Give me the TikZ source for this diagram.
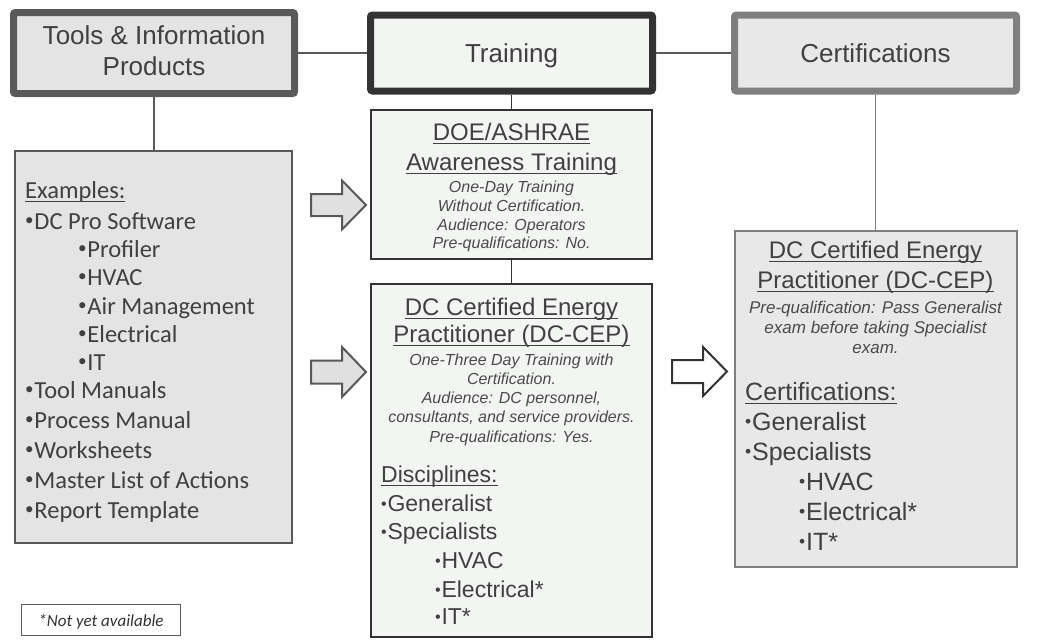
\documentclass[tikz,border=0pt]{standalone}
\usepackage{fontspec}
\usepackage{graphicx}
\setmainfont{Liberation Sans}
\newfontfamily\calfont{Carlito}
\definecolor{txtgray}{HTML}{404040}
\definecolor{itgray}{HTML}{4A4A4A}
\definecolor{toolsborder}{HTML}{595959}
\definecolor{trainborder}{HTML}{333333}
\definecolor{certborder}{HTML}{7F7F7F}
\definecolor{toolsfill}{HTML}{E4E4E4}
\definecolor{trainfill}{HTML}{F3F5F3}
\definecolor{certfill}{HTML}{E8E8E8}
\definecolor{linegray}{HTML}{595959}
\definecolor{arrowfill}{HTML}{E0E0E0}
\newcommand\fsz[1]{\fontsize{#1}{#1}\selectfont}
\newcommand\ulx[1]{\setbox0\hbox{#1}\rlap{\rule[-4pt]{\wd0}{1.4pt}}\box0}
\newcommand\bul{\raisebox{.13em}{\scalebox{.7}{•}}\hspace{.03em}}
\newcommand\bulA{\raisebox{.085em}{\scalebox{.7}{•}}\hspace{.03em}}
\begin{document}
\begin{tikzpicture}[x=1pt,y=-1pt,
  hdrbox/.style={draw, rounded corners=2pt, line width=7pt, inner sep=0, minimum width=282pt, minimum height=76pt},
  contbox/.style={draw, line width=2pt, inner sep=0},
  conn/.style={draw=linegray, line width=1.6pt},
  txt/.style={inner sep=0, text=txtgray},
  itx/.style={inner sep=0, text=itgray, font=\fsz{16}\itshape, anchor=base},
  barrowA/.style={draw=toolsborder, fill=arrowfill, line width=2pt, line join=miter},
  barrowB/.style={draw=trainborder, fill=white, line width=2pt, line join=miter}]
\useasboundingbox (0,0) rectangle (1041,643);
\fill[white] (0,0) rectangle (1041,643);

% header boxes
\node[hdrbox, draw=toolsborder, fill=toolsfill, minimum width=281pt, minimum height=81pt] (tools) at (154,53) {};
\node[hdrbox, draw=trainborder, fill=trainfill] (train) at (511.5,53) {};
\node[hdrbox, draw=certborder, fill=certfill] (cert) at (875.5,53) {};

% content boxes
\node[contbox, draw=toolsborder, fill=toolsfill, minimum width=277pt, minimum height=392pt] (ex) at (153.5,347) {};
\node[contbox, draw=trainborder, fill=trainfill, minimum width=281pt, minimum height=149pt] (doe) at (511.5,184.5) {};
\node[contbox, draw=trainborder, fill=trainfill, minimum width=281pt, minimum height=353pt] (cep) at (511.5,460.5) {};
\node[contbox, draw=certborder, fill=certfill, minimum width=282pt, minimum height=336pt] (ccep) at (875.5,399) {};
\node[draw=toolsborder, line width=1pt, fill=white, inner sep=0, minimum width=159pt, minimum height=31pt] (note) at (101,620) {};

% connectors
\draw[conn] (tools.east) -- (train.west);
\draw[conn] (train.east) -- (cert.west);
\draw[conn] (tools.south) -- (tools.south |- ex.north);
\draw[conn, draw=trainborder] (train.south) -- (doe.north);
\draw[conn, draw=trainborder] (doe.south) -- (cep.north);
\draw[conn, draw=certborder] (cert.south) -- (cert.south |- ccep.north);

% block arrows
\draw[barrowA] (311,194) -- (342,194) -- (342,180.5) -- (366,205) -- (342,229.5) -- (342,216) -- (311,216) -- cycle;
\draw[barrowA] (311,360.5) -- (342,360.5) -- (342,347) -- (366,372) -- (342,397) -- (342,383.5) -- (311,383.5) -- cycle;
\draw[barrowB] (672,360) -- (703,360) -- (703,347) -- (727,371.5) -- (703,396) -- (703,383) -- (672,383) -- cycle;

% header texts
\node[txt, anchor=base, font=\fsz{26}] (tt1) at (154,44) {Tools \& Information};
\node[txt, anchor=base, font=\fsz{26}] (tt2) at (154,75) {Products};
\node[txt, anchor=base, font=\fsz{26}] (tr1) at (511.5,62) {Training};
\node[txt, anchor=base, font=\fsz{26}] (ce1) at (875.5,62) {Certifications};

% examples
\begin{scope}[every node/.style={txt, anchor=base west, font=\calfont\fsz{24.5}}]
\node (e0) at (25,198) {\ulx{Examples:}};
\node (e1) at (25,229) {\bul DC Pro Software};
\node (e2) at (78,257) {\bul Profiler};
\node (e3) at (78,285) {\bul HVAC};
\node (e4) at (78,314) {\bul Air Management};
\node (e5) at (78,342) {\bul Electrical};
\node (e6) at (78,370) {\bul IT};
\node (e7) at (25,398) {\bul Tool Manuals};
\node (e8) at (25,428) {\bul Process Manual};
\node (e9) at (25,458) {\bul Worksheets};
\node (e10) at (25,488) {\bul Master List of Actions};
\node (e11) at (25,518) {\bul Report Template};
\end{scope}

% DOE box
\node[txt, anchor=base, font=\fsz{24}] (d1) at (511.5,140) {\ulx{DOE/ASHRAE}};
\node[txt, anchor=base, font=\fsz{24}] (d2) at (511.5,170) {\ulx{Awareness Training}};
\node[itx] (d3) at (511.5,192) {One-Day Training};
\node[itx] (d4) at (511.5,211) {Without Certification.};
\node[itx] (d5) at (511.5,230) {Audience: Operators};
\node[itx] (d6) at (511.5,248) {Pre-qualifications: No.};

% DC-CEP training box
\node[txt, anchor=base, font=\fsz{24}] (c1) at (511.5,315) {\ulx{DC Certified Energy}};
\node[txt, anchor=base, font=\fsz{24}] (c2) at (511.5,342) {\ulx{Practitioner (DC-CEP)}};
\node[itx] (c3) at (511.5,365) {One-Three Day Training with};
\node[itx] (c4) at (511.5,384) {Certification.};
\node[itx] (c5) at (511.5,403) {Audience: DC personnel,};
\node[itx] (c6) at (511.5,422) {consultants, and service providers.};
\node[itx] (c7) at (511.5,442) {Pre-qualifications: Yes.};
\begin{scope}[every node/.style={txt, anchor=base west, font=\fsz{23}}]
\node (c8) at (381,482) {\ulx{Disciplines:}};
\node (c9) at (381,511) {\bulA Generalist};
\node (c10) at (381,539) {\bulA Specialists};
\node (c11) at (435,568) {\bulA HVAC};
\node (c12) at (435,597) {\bulA Electrical*};
\node (c13) at (435,624) {\bulA IT*};
\end{scope}

% Certification DC-CEP box
\node[txt, anchor=base, font=\fsz{24}] (k1) at (875.5,258) {\ulx{DC Certified Energy}};
\node[txt, anchor=base, font=\fsz{24}] (k2) at (875.5,288) {\ulx{Practitioner (DC-CEP)}};
\node[itx, font=\fsz{17}\itshape] (k3) at (875.5,313) {Pre-qualification: Pass Generalist};
\node[itx, font=\fsz{17}\itshape] (k4) at (875.5,333) {exam before taking Specialist};
\node[itx, font=\fsz{17}\itshape] (k5) at (875.5,353) {exam.};
\begin{scope}[every node/.style={txt, anchor=base west, font=\fsz{25}}]
\node (k6) at (745,400) {\ulx{Certifications:}};
\node (k7) at (745,430) {\bulA Generalist};
\node (k8) at (745,460) {\bulA Specialists};
\node (k9) at (799,490) {\bulA HVAC};
\node (k10) at (799,520) {\bulA Electrical*};
\node (k11) at (799,550) {\bulA IT*};
\end{scope}

% footnote
\node[txt, anchor=base, font=\calfont\fsz{17}\itshape, text=trainborder] (n1) at (101,626) {*Not yet available};
\end{tikzpicture}
\end{document}
